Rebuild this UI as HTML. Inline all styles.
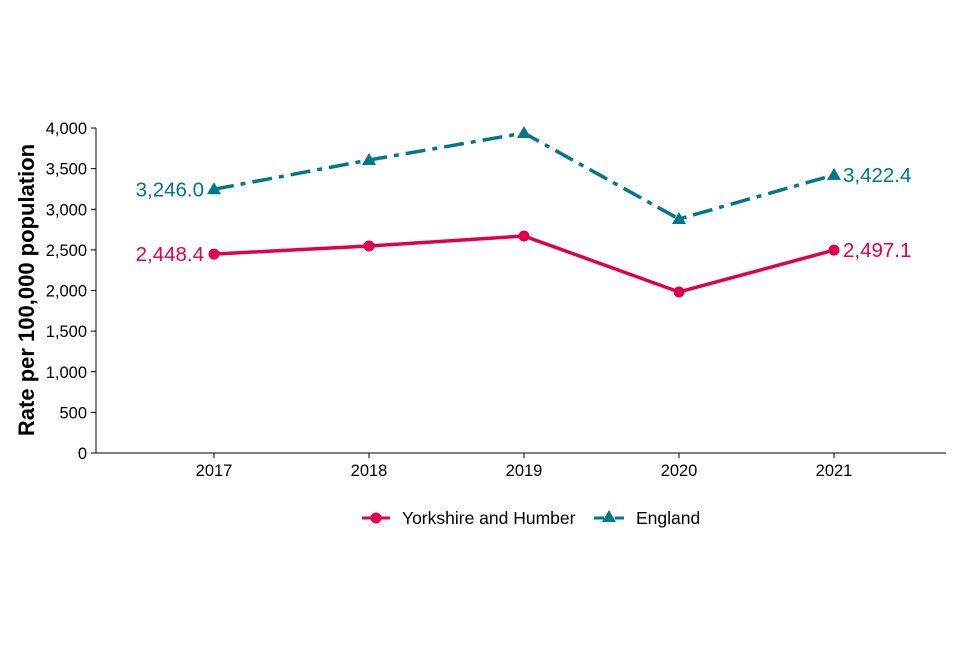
<!DOCTYPE html>
<html><head><meta charset="utf-8"><style>
body{margin:0;background:#fff;font-family:"Liberation Sans",Arial,sans-serif}
svg text{font-family:"Liberation Sans",Arial,sans-serif}
</style></head><body>
<svg id="chart" width="960" height="640" xmlns="http://www.w3.org/2000/svg">
<rect width="960" height="640" fill="#fff"/>
<g id="axes"></g><g id="series"></g>
<g>
<g>
<line x1="362" y1="518" x2="390" y2="518" stroke="#e0004d" stroke-width="3"/>
<circle cx="376" cy="518" r="5.5" fill="#e0004d"/>
<text x="402" y="524" font-size="17.5" fill="#000">Yorkshire and Humber</text></g>
<g>
<line x1="594" y1="518" x2="624" y2="518" stroke="#00788a" stroke-width="3" stroke-dasharray="10,4,3,4"/>
<path d="M609,510 L616,522 L602,522Z" fill="#00788a"/>
<text x="636" y="524" font-size="17.5" fill="#000">England</text></g>
</g>
</svg>
<script>
const years=["2017","2018","2019","2020","2021"];
const yorkshire=[2448.4,2548,2671,1982,2497.1];
const england=[3246.0,3606,3938,2880,3422.4];
const yTicks=[0,500,1000,1500,2000,2500,3000,3500,4000];
const NS="http://www.w3.org/2000/svg";
const x=i=>214+i*155;
const y=v=>453-v*325/4000;
function mk(tag,attrs,parent,txt){const e=document.createElementNS(NS,tag);for(const k in attrs)e.setAttribute(k,attrs[k]);if(txt!==undefined)e.textContent=txt;parent.appendChild(e);return e;}
const ax=document.getElementById('axes'),se=document.getElementById('series');
let a=mk('line',{x1:96,y1:128,x2:96,y2:453,stroke:'#000','stroke-width':1},ax);


a=mk('line',{x1:96,y1:453,x2:946,y2:453,stroke:'#000','stroke-width':1},ax);


yTicks.forEach(t=>{
 mk('line',{x1:91,y1:y(t),x2:96,y2:y(t),stroke:'#000'},ax);
 const tx=mk('text',{x:87,y:y(t)+6,'text-anchor':'end','font-size':16.5,fill:'#000'},ax,t.toLocaleString('en-GB'));
 
 
});
years.forEach((yr,i)=>{
 mk('line',{x1:x(i),y1:453,x2:x(i),y2:458,stroke:'#000'},ax);
 const tx=mk('text',{x:x(i),y:476,'text-anchor':'middle','font-size':16.5,fill:'#000'},ax,yr);
 
 
});
const yt=mk('text',{x:0,y:0,transform:'translate(34,290) rotate(-90)','text-anchor':'middle','font-size':22,'font-weight':'bold',fill:'#000'},ax,'Rate per 100,000 population');


function series(vals,color,dash,marker,name){
 const p=mk('polyline',{points:vals.map((v,i)=>x(i)+','+y(v)).join(' '),fill:'none',stroke:color,'stroke-width':3.5,'stroke-dasharray':dash},se);
 
 
 vals.forEach((v,i)=>{
  let m;
  if(marker==='c') m=mk('circle',{cx:x(i),cy:y(v),r:5.5,fill:color},se);
  else m=mk('path',{d:`M${x(i)},${y(v)-7} L${x(i)+7},${y(v)+5} L${x(i)-7},${y(v)+5}Z`,fill:color},se);
  
  
 });
 const f=vals[0],l=vals[vals.length-1];
 const fmt=v=>v.toLocaleString('en-GB',{minimumFractionDigits:1,maximumFractionDigits:1});
 let t=mk('text',{x:x(0)-10,y:y(f)+7,'text-anchor':'end','font-size':20.5,fill:color},se,fmt(f));
 
 
 t=mk('text',{x:x(vals.length-1)+9,y:y(l)+7,'text-anchor':'start','font-size':20.5,fill:color},se,fmt(l));
 
 
}
series(england,'#00788a','20,7,5,7','t','england');
series(yorkshire,'#e0004d','none','c','yorkshire');
</script>
</body></html>
